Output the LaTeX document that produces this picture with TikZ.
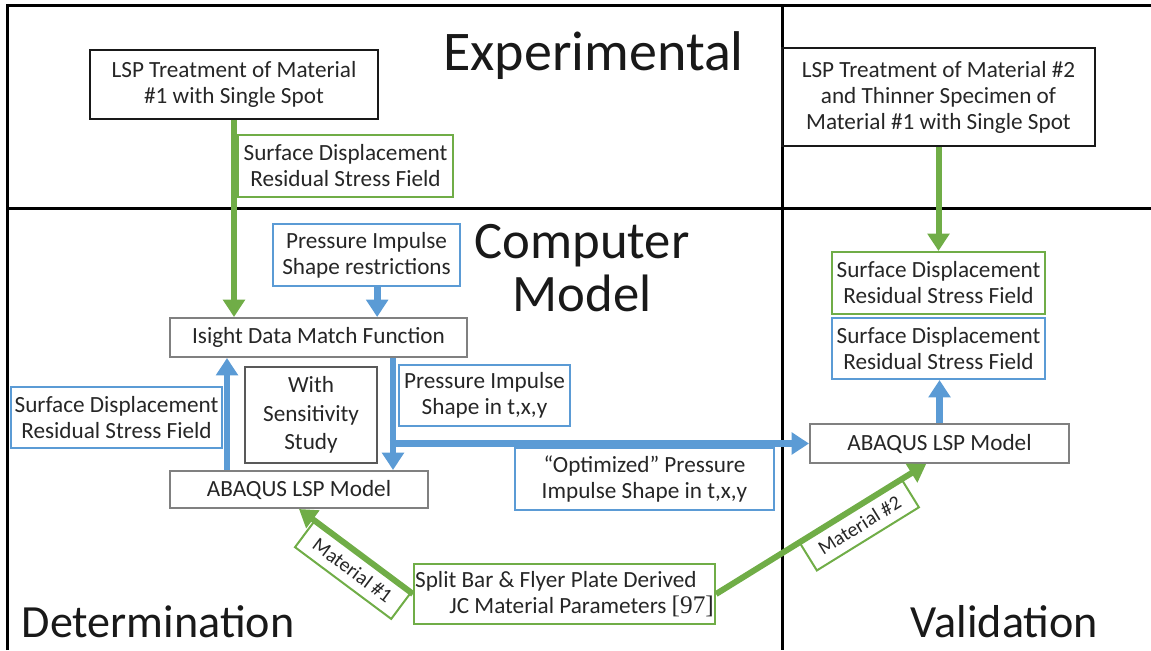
\documentclass[tikz,border=0pt]{standalone}
\usepackage{fontspec}
\setmainfont{Carlito}
\newfontfamily\refont{Liberation Serif}
\usetikzlibrary{arrows.meta, positioning}
\definecolor{lgreen}{HTML}{70AD47}
\definecolor{lblue}{HTML}{5B9BD5}
\newcommand{\bodyfont}{\fontsize{17.4}{19.5}\selectfont}

\begin{document}
\begin{tikzpicture}[x=0.75pt, y=-0.75pt,
    b/.style={draw, rectangle, align=center, inner sep=0pt, line width=1.5pt, text=black!85, font=\bodyfont},
    blk/.style={b, draw=black!90},
    gry/.style={b, draw=black!50},
    gbox/.style={b, draw=lgreen},
    bbox/.style={b, draw=lblue},
    ttl/.style={text=black!90, inner sep=0pt},
    garr/.style={draw=lgreen, line width=4.5pt, -{Triangle[width=16pt, length=13pt]}},
    barr/.style={draw=lblue, line width=5pt, -{Triangle[width=16pt, length=13pt]}},
    mat/.style={gbox, font=\fontsize{15}{18}\selectfont, minimum width=90pt, minimum height=24pt, sloped, anchor=north}]
  \useasboundingbox (0,0) rectangle (1151,650);

  % frame
  \draw[line width=2.25pt] (7,650) -- (7,5) -- (1151,5);
  \draw[line width=2.25pt] (7,208) -- (1151,208);
  \draw[line width=2.25pt] (782,5) -- (782,650);

  % titles
  \node[ttl, anchor=base, font=\fontsize{42}{50}\selectfont] (exp) at (593.5,70) {Experimental};
  \node[ttl, align=center, font=\fontsize{39.5}{40}\selectfont] (cm) at (582,268) {Computer\\Model};
  \node[ttl, anchor=base, font=\fontsize{34.6}{40}\selectfont] (det) at (158,637) {Determination};
  \node[ttl, anchor=base, font=\fontsize{34.6}{40}\selectfont] (val) at (1004.5,637) {Validation};

  % experimental
  \node[blk, minimum width=216pt, minimum height=51.75pt] (lsp1) at (234,84.5) {LSP Treatment of Material\\\#1 with Single Spot};
  \node[gbox, minimum width=161.25pt, minimum height=46.5pt] (sd1) at (345.5,166) {Surface Displacement\\Residual Stress Field};
  \node[blk, minimum width=234.75pt, minimum height=73.5pt] (lsp2) at (938.5,97) {LSP Treatment of Material \#2\\and Thinner Specimen of\\Material \#1 with Single Spot};

  % computer model
  \node[bbox, minimum width=140.25pt, minimum height=46.5pt] (pr) at (366.5,255) {Pressure Impulse\\Shape restrictions};
  \node[gry, minimum width=222.75pt, minimum height=29.25pt] (isight) at (318.5,337.5) {Isight Data Match Function};
  \node[b, draw=black!65, minimum width=99pt, minimum height=72pt, font=\fontsize{17.4}{21.5}\selectfont] (sens) at (311,415) {With\\Sensitivity\\Study};
  \node[gry, minimum width=193.5pt, minimum height=27.75pt] (abq1) at (299,489.5) {ABAQUS LSP Model};
  \node[bbox, minimum width=158.25pt, minimum height=45.75pt] (sdl) at (116.5,417.5) {Surface Displacement\\Residual Stress Field};
  \node[bbox, minimum width=128.25pt, minimum height=45.75pt] (pis) at (484.5,395.5) {Pressure Impulse\\Shape in t,x,y};
  \node[bbox, minimum width=194.25pt, minimum height=46.5pt] (opt) at (644.5,479) {“Optimized” Pressure\\Impulse Shape in t,x,y};
  \node[gbox, minimum width=225.75pt, minimum height=45pt, align=right] (split) at (564.5,594) {Split Bar \& Flyer Plate Derived\hspace*{13pt}\\JC Material Parameters {\refont\fontsize{19}{19.5}\selectfont[97]}};

  % validation
  \node[gbox, minimum width=159.75pt, minimum height=46.5pt] (sdg) at (938.5,283) {Surface Displacement\\Residual Stress Field};
  \node[bbox, minimum width=159.75pt, minimum height=45.75pt, below=1.5pt of sdg] (sdv) {Surface Displacement\\Residual Stress Field};
  \node[gry, minimum width=194.25pt, minimum height=29.25pt] (abq2) at (939.5,443.5) {ABAQUS LSP Model};

  % connectors
  \coordinate (up) at (227,0);
  \coordinate (dn) at (393,0);
  \coordinate (br) at (389.5,0);
  \draw[garr] (lsp1.south) -- (lsp1.south |- isight.north);
  \draw[barr] ([xshift=8pt]pr.south) -- ([xshift=8pt]pr.south |- isight.north);
  \draw[barr] (up |- abq1.north) -- (up |- isight.south);
  \draw[barr] (dn |- isight.south) -- (dn |- abq1.north);
  \draw[barr] (br |- abq2.west) -- (abq2.west);
  \draw[garr] (lsp2.south) -- (sdg.north);
  \draw[barr] (abq2.north) -- (abq2.north |- sdv.south);
  \draw[garr] (split.west) -- (abq1.south) node[mat, pos=0.44] (m1) {Material \#1};
  \draw[garr] (split.east) -- ([xshift=-10pt]abq2.south) node[mat, pos=0.64] (m2) {Material \#2};
\end{tikzpicture}
\end{document}
